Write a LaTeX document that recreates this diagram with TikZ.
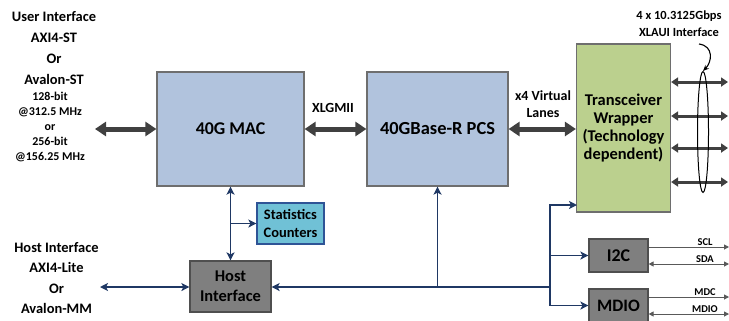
\documentclass[tikz,border=0pt]{standalone}
\usepackage{fontspec}
\setmainfont{Carlito}
\usetikzlibrary{arrows.meta,shapes.geometric,calc}
\definecolor{macfill}{HTML}{B1C3DD}
\definecolor{boxline}{HTML}{6E6E6E}
\definecolor{xcvrfill}{HTML}{BBD08E}
\definecolor{grayfill}{HTML}{7F7F7F}
\definecolor{grayline}{HTML}{4F4F4F}
\definecolor{statfill}{HTML}{70C1D6}
\definecolor{statline}{HTML}{2F5496}
\definecolor{navy}{HTML}{1F3864}
\definecolor{darkarrow}{HTML}{404040}
\definecolor{sigcol}{HTML}{595959}
\begin{document}
\begin{tikzpicture}[x=1bp,y=-1bp,
  box/.style={draw=boxline, line width=1.2bp, fill=macfill, inner sep=0pt, align=center},
  graybox/.style={box, draw=grayline, fill=grayfill},
  label/.style={inner sep=0pt, align=center},
  fatarrow/.style={draw=darkarrow, line width=5bp, {Triangle[length=11bp,width=14bp]}-{Triangle[length=11bp,width=14bp]}},
  lanearrow/.style={draw=darkarrow, line width=3bp, {Triangle[length=7bp,width=9bp]}-{Triangle[length=7bp,width=9bp]}},
  nav/.style={draw=navy, line width=1.6bp},
  navtip/.tip={Stealth[length=8bp,width=8bp,inset=2bp]},
  sig/.style={draw=sigcol, line width=1bp},
  sigtip/.tip={Triangle[length=5bp,width=5bp]}
]
\useasboundingbox (0,0) rectangle (729,320);

% main boxes
\node[box, minimum width=147bp, minimum height=114bp, font=\fontsize{18}{22}\selectfont\bfseries] (mac) at (230.5,129) {40G MAC};
\node[box, minimum width=141bp, minimum height=114bp, font=\fontsize{18.5}{22}\selectfont\bfseries] (pcs) at (437.5,129) {40GBase-R PCS};
\node[box, fill=xcvrfill, minimum width=94bp, minimum height=168bp, font=\fontsize{16.5}{18}\selectfont\bfseries] (xcvr) at (623.5,128) {Transceiver\\Wrapper\\(Technology\\dependent)};
\node[box, draw=statline, fill=statfill, minimum width=67bp, minimum height=41bp, font=\fontsize{14.5}{17.5}\selectfont\bfseries] (stat) at (290.5,223.5) {Statistics\\Counters};
\node[graybox, minimum width=81bp, minimum height=51bp, font=\fontsize{16.5}{20.5}\selectfont\bfseries] (host) at (230.5,286.5) {Host\\Interface};
\node[graybox, minimum width=59bp, minimum height=33bp, font=\fontsize{18}{20}\selectfont\bfseries] (i2c) at (618.5,255.5) {I2C};
\node[graybox, minimum width=59bp, minimum height=33bp, font=\fontsize{17.5}{20}\selectfont\bfseries] (mdio) at (618.5,305.5) {MDIO};

% side texts
\node[label, font=\fontsize{14.5}{21.3}\selectfont\bfseries] (userif) at (54,48) {User Interface\\AXI4-ST\\Or\\Avalon-ST};
\node[label, font=\fontsize{12}{15}\selectfont\bfseries] (userrate) at (50,127) {128-bit\\@312.5 MHz\\or\\256-bit\\@156.25 MHz};
\node[label, font=\fontsize{14.5}{20.7}\selectfont\bfseries] (hostif) at (56.5,278) {Host Interface\\AXI4-Lite\\Or\\Avalon-MM};
\node[label, font=\fontsize{14}{16}\selectfont\bfseries] (xlgmii) at (333,108) {XLGMII};
\node[label, font=\fontsize{14}{17}\selectfont\bfseries] (vlanes) at (543,104.5) {x4 Virtual\\Lanes};
\node[label, font=\fontsize{12.5}{17}\selectfont\bfseries] (xlaui) at (679,23.5) {4 x 10.3125Gbps\\XLAUI Interface};

% thick data arrows
\coordinate (ua) at (95,129);
\draw[fatarrow] (ua) -- (mac.west);
\draw[fatarrow] (mac.east) -- (pcs.west);
\draw[fatarrow] (pcs.east) -- (xcvr.west |- pcs.east);

% lanes
\coordinate (l1) at (728,82);
\coordinate (l2) at (728,116);
\coordinate (l3) at (728,148);
\coordinate (l4) at (728,182);
\foreach \l in {l1,l2,l3,l4} \draw[lanearrow] (xcvr.east |- \l) -- (\l);
\node[draw=black, line width=1bp, ellipse, minimum width=11bp, minimum height=121bp, inner sep=0pt] (ell) at (703,132) {};
\coordinate (cs) at (699,44);
\draw[line width=1.1bp, -{Stealth[length=6bp,width=5bp]}] (cs) .. controls (714,46) and (712,62) .. (ell.north);

% host/control connections
\draw[nav, navtip-navtip] (mac.south) -- (host.north);
\draw[nav, -navtip] (mac.south |- stat.west) -- (stat.west);
\coordinate (hl) at (100,287);
\draw[nav, navtip-navtip] (hl) -- (host.west |- hl);
\coordinate (bj) at (550,287);
\draw[nav, -navtip] (bj) -- (host.east |- bj);
\draw[nav, -navtip] (pcs.south |- bj) -- (pcs.south);
\coordinate (xin) at (577,205);
\draw[nav, -navtip] (bj) |- (xin);
\draw[nav, -navtip] (bj) |- (i2c.west);
\draw[nav, -navtip] (bj) |- (mdio.west);

% serial signals
\coordinate (scl) at (729,247);
\coordinate (sda) at (729,264);
\coordinate (mdc) at (729,297);
\coordinate (mdd) at (729,314);
\draw[sig, -sigtip] (i2c.east |- scl) -- (scl);
\draw[sig, sigtip-sigtip] (i2c.east |- sda) -- (sda);
\draw[sig, -sigtip] (mdio.east |- mdc) -- (mdc);
\draw[sig, sigtip-sigtip] (mdio.east |- mdd) -- (mdd);
\node[label, font=\fontsize{10.5}{12}\selectfont\bfseries, anchor=base] (scllab) at (705,245) {SCL};
\node[label, font=\fontsize{10.5}{12}\selectfont\bfseries, anchor=base] (sdalab) at (705,262) {SDA};
\node[label, font=\fontsize{10.5}{12}\selectfont\bfseries, anchor=base] (mdclab) at (705,295) {MDC};
\node[label, font=\fontsize{10.5}{12}\selectfont\bfseries, anchor=base] (mdiolab) at (705,312) {MDIO};
\end{tikzpicture}
\end{document}
